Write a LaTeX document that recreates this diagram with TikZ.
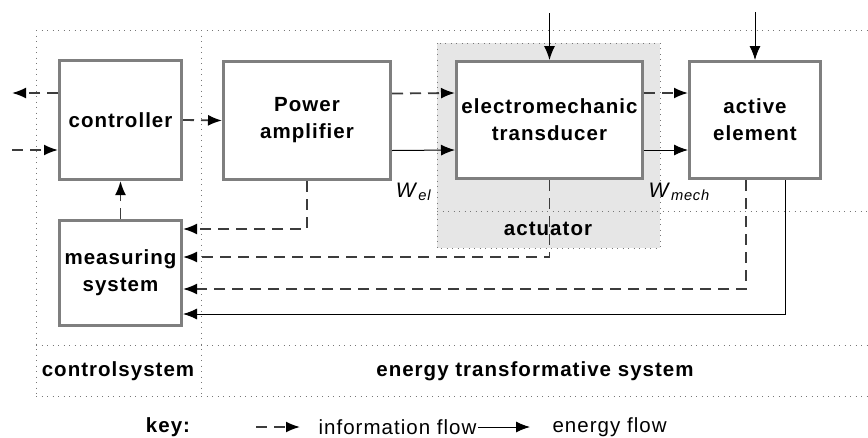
\documentclass[tikz,border=0pt]{standalone}
\usepackage{fontspec}
\setmainfont{Liberation Sans}[LetterSpace=5]
\usepackage{tikz}
\usetikzlibrary{arrows.meta}
\definecolor{frame}{HTML}{7F7F7F}
\definecolor{info}{HTML}{3C3C3C}
\definecolor{actgray}{HTML}{E6E6E6}
\definecolor{dots}{HTML}{777777}

\begin{document}
\begin{tikzpicture}[x=1pt,y=-1pt,
  block/.style={draw=frame,line width=3pt,fill=white,align=center,
    font=\bfseries\fontsize{20.5}{27}\selectfont},
  infoflow/.style={draw=info,line width=1.8pt,dash pattern=on 11pt off 7pt,
    -{Latex[length=14pt,width=11pt,color=black]}},
  energyflow/.style={draw=black,line width=1pt,-{Latex[length=14pt,width=11pt]}},
  border/.style={draw=dots,line width=1pt,dash pattern=on 1pt off 4.5pt},
  label/.style={font=\bfseries\fontsize{20.5}{24}\selectfont}]
  \useasboundingbox (0,0) rectangle (868,437);
  % frames of the two systems
  \fill[actgray] (437,43) rectangle (660,248);
  \draw[border] (437,43) rectangle (660,248);
  \draw[border] (36,30) -- (868,30);
  \draw[border] (36,30) -- (36,396);
  \draw[border] (201,30) -- (201,396);
  \draw[border] (437,211) -- (868,211);
  \draw[border] (36,345) -- (868,345);
  \draw[border] (36,396) -- (868,396);
  % blocks
  \node[block,minimum width=122pt,minimum height=119pt] (ctrl) at (120.5,120) {controller};
  \node[block,minimum width=167pt,minimum height=118pt] (amp) at (307,120.5) {Power\\amplifier};
  \node[block,minimum width=186pt,minimum height=117pt] (trans) at (549.5,120) {electromechanic\\transducer};
  \node[block,minimum width=131pt,minimum height=117pt] (act) at (755,120) {active\\element};
  \node[block,minimum width=122pt,minimum height=105pt] (meas) at (120.5,273) {measuring\\system};
  % free ends
  \coordinate (out) at (12,93);
  \coordinate (in) at (12,150);
  \coordinate (transin) at (549.5,13);
  \coordinate (actin) at (755,12);
  % connectors
  \draw[infoflow] ([yshift=27pt]ctrl.west) -- (out);
  \draw[infoflow] (in) -- ([yshift=-30pt]ctrl.west);
  \draw[infoflow] (ctrl.east) -- (amp.west);
  \draw[infoflow] ([yshift=27pt]amp.east) -- ([yshift=27pt]trans.west);
  \draw[energyflow] ([yshift=-30pt]amp.east) -- ([yshift=-30pt]trans.west);
  \draw[infoflow] ([yshift=27pt]trans.east) -- ([yshift=27pt]act.west);
  \draw[energyflow] ([yshift=-30pt]trans.east) -- ([yshift=-30pt]act.west);
  \draw[energyflow] (transin) -- (trans.north);
  \draw[energyflow] (actin) -- (act.north);
  \draw[infoflow] (meas.north) -- (ctrl.south);
  \draw[infoflow] (amp.south) |- ([yshift=44pt]meas.east);
  \draw[infoflow] (trans.south) |- ([yshift=16pt]meas.east);
  \draw[infoflow] ([xshift=-9pt]act.south) |- ([yshift=-16pt]meas.east);
  \draw[energyflow] ([xshift=30pt]act.south) |- ([yshift=-41pt]meas.east);
  % texts
  \node[font=\fontsize{21}{24}\selectfont] (wel) at (414,192) {\textit{W}\textsubscript{\textit{el}}};
  \node[font=\fontsize{21}{24}\selectfont,anchor=west] (wmech) at (645,192) {\textit{W}\textsubscript{\textit{mech}}};
  \node[label] (actuator) at (548,229) {actuator};
  \node[label] (ctrlsys) at (118,371) {controlsystem};
  \node[label] (energysys) at (535,371) {energy transformative system};
  % key
  \node[label] (key) at (168,427) {key:};
  \coordinate (k1) at (256,427);
  \coordinate (k2) at (300,427);
  \draw[infoflow] (k1) -- (k2);
  \node[font=\fontsize{20.5}{24}\selectfont,anchor=west] (infotext) at (315,427) {information flow};
  \coordinate (k3) at (478,427);
  \coordinate (k4) at (530,427);
  \draw[energyflow] (k3) -- (k4);
  \node[font=\fontsize{20.5}{24}\selectfont,anchor=west] (energytext) at (549,427) {energy flow};
\end{tikzpicture}
\end{document}
